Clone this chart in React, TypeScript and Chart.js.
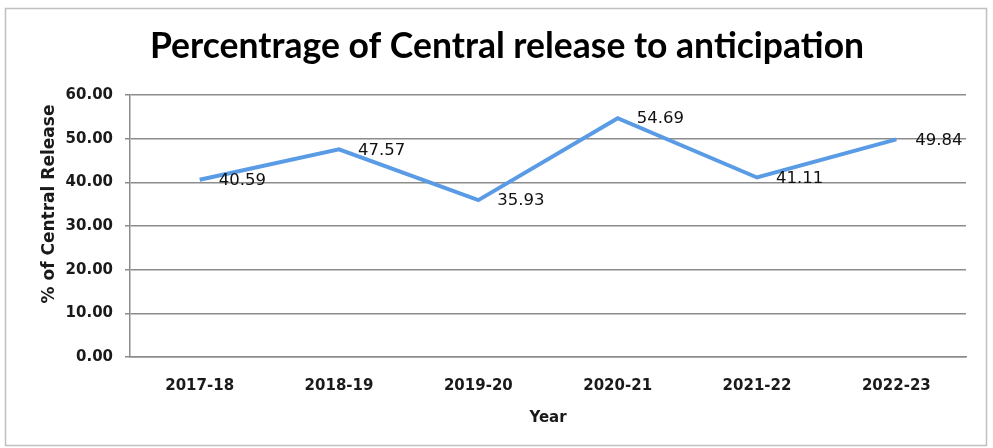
import React, { useEffect, useRef } from "react";
import { Chart, registerables } from "chart.js";

Chart.register(...registerables);

const categories: string[] = ["2017-18", "2018-19", "2019-20", "2020-21", "2021-22", "2022-23"];
const releasePct: number[] = [40.59, 47.57, 35.93, 54.69, 41.11, 49.84];
const yTickValues: number[] = [0, 10, 20, 30, 40, 50, 60];
const chartTitle = "Percentrage of Central release to anticipation";
const yAxisTitle = "% of Central Release";
const xAxisTitle = "Year";

const TITLE_FONT = "Lato, 'Open Sans', sans-serif";
const FONT = "'DejaVu Sans', Verdana, sans-serif";

const decorPlugin = {
  id: "decor",
  beforeDraw(chart: any) {
    const ctx = chart.ctx;
    ctx.save();
    ctx.fillStyle = "#ffffff";
    ctx.fillRect(0, 0, chart.width, chart.height);
    ctx.strokeStyle = "#c0c0c0";
    ctx.lineWidth = 1.5;
    ctx.strokeRect(5.5, 8.5, 981, 437);
    ctx.restore();
  },
  afterDraw(chart: any) {
    const ctx = chart.ctx;
    const area = chart.chartArea;
    ctx.save();
    ctx.fillStyle = "#000000";
    // title
    ctx.font = `bold 35.5px ${TITLE_FONT}`;
    ctx.textAlign = "center";
    ctx.textBaseline = "alphabetic";
    ctx.fillText(chartTitle, 507, 58);
    // x axis title
    ctx.fillStyle = "#1a1a1a";
    ctx.font = `bold 15px ${FONT}`;
    ctx.textBaseline = "middle";
    ctx.fillText(xAxisTitle, (area.left + area.right) / 2, 418);
    // y axis title
    ctx.font = `bold 17px ${FONT}`;
    ctx.translate(50, 204);
    ctx.rotate(-Math.PI / 2);
    ctx.fillText(yAxisTitle, 0, 0);
    ctx.restore();
  },
  afterDatasetsDraw(chart: any) {
    const ctx = chart.ctx;
    const meta = chart.getDatasetMeta(0);
    const data = chart.data.datasets[0].data as number[];
    ctx.save();
    ctx.fillStyle = "#111111";
    ctx.font = `16.5px ${FONT}`;
    ctx.textAlign = "left";
    ctx.textBaseline = "middle";
    meta.data.forEach((pt: any, i: number) => {
      ctx.fillText(data[i].toFixed(2), pt.x + 19, pt.y + 1);
    });
    ctx.restore();
  },
};

export default function App() {
  const ref = useRef<HTMLCanvasElement | null>(null);
  useEffect(() => {
    if (!ref.current) return;
    const chart = new Chart(ref.current, {
      type: "line",
      data: {
        labels: categories,
        datasets: [
          {
            data: releasePct,
            borderColor: "#5a9be6",
            borderWidth: 4,
            pointRadius: 0,
            tension: 0,
            fill: false,
          },
        ],
      },
      options: {
        animation: false,
        responsive: false,
        maintainAspectRatio: false,
        layout: { padding: { left: 0, right: 27, top: 95, bottom: 0 } },
        plugins: {
          legend: { display: false },
          tooltip: { enabled: false },
          title: { display: false },
        },
        scales: {
          x: {
            offset: true,
            grid: { display: false, drawTicks: false },
            border: { display: true, color: "#8c8c8c", width: 1.5 },
            ticks: {
              color: "#1a1a1a",
              font: { family: FONT, size: 15, weight: "bold" },
              padding: 20,
              maxRotation: 0,
            },
            afterFit: (s: any) => {
              s.height = 91;
            },
          },
          y: {
            min: 0,
            max: 60,
            afterBuildTicks: (s: any) => {
              s.ticks = yTickValues.map((v) => ({ value: v }));
            },
            grid: { color: "#8c8c8c", lineWidth: 1.5, tickLength: 5, drawTicks: true },
            border: { display: true, color: "#8c8c8c", width: 1.5 },
            ticks: {
              color: "#1a1a1a",
              font: { family: FONT, size: 15, weight: "bold" },
              padding: 12,
              callback: (v: any) => Number(v).toFixed(2),
            },
            afterFit: (s: any) => {
              s.width = 130;
            },
          },
        },
      },
      plugins: [decorPlugin],
    });
    return () => chart.destroy();
  }, []);
  return (
    <div style={{ position: "fixed", left: 0, top: 0, width: 993, height: 448 }}>
      <canvas ref={ref} width={993} height={448} style={{ display: "block" }} />
    </div>
  );
}
